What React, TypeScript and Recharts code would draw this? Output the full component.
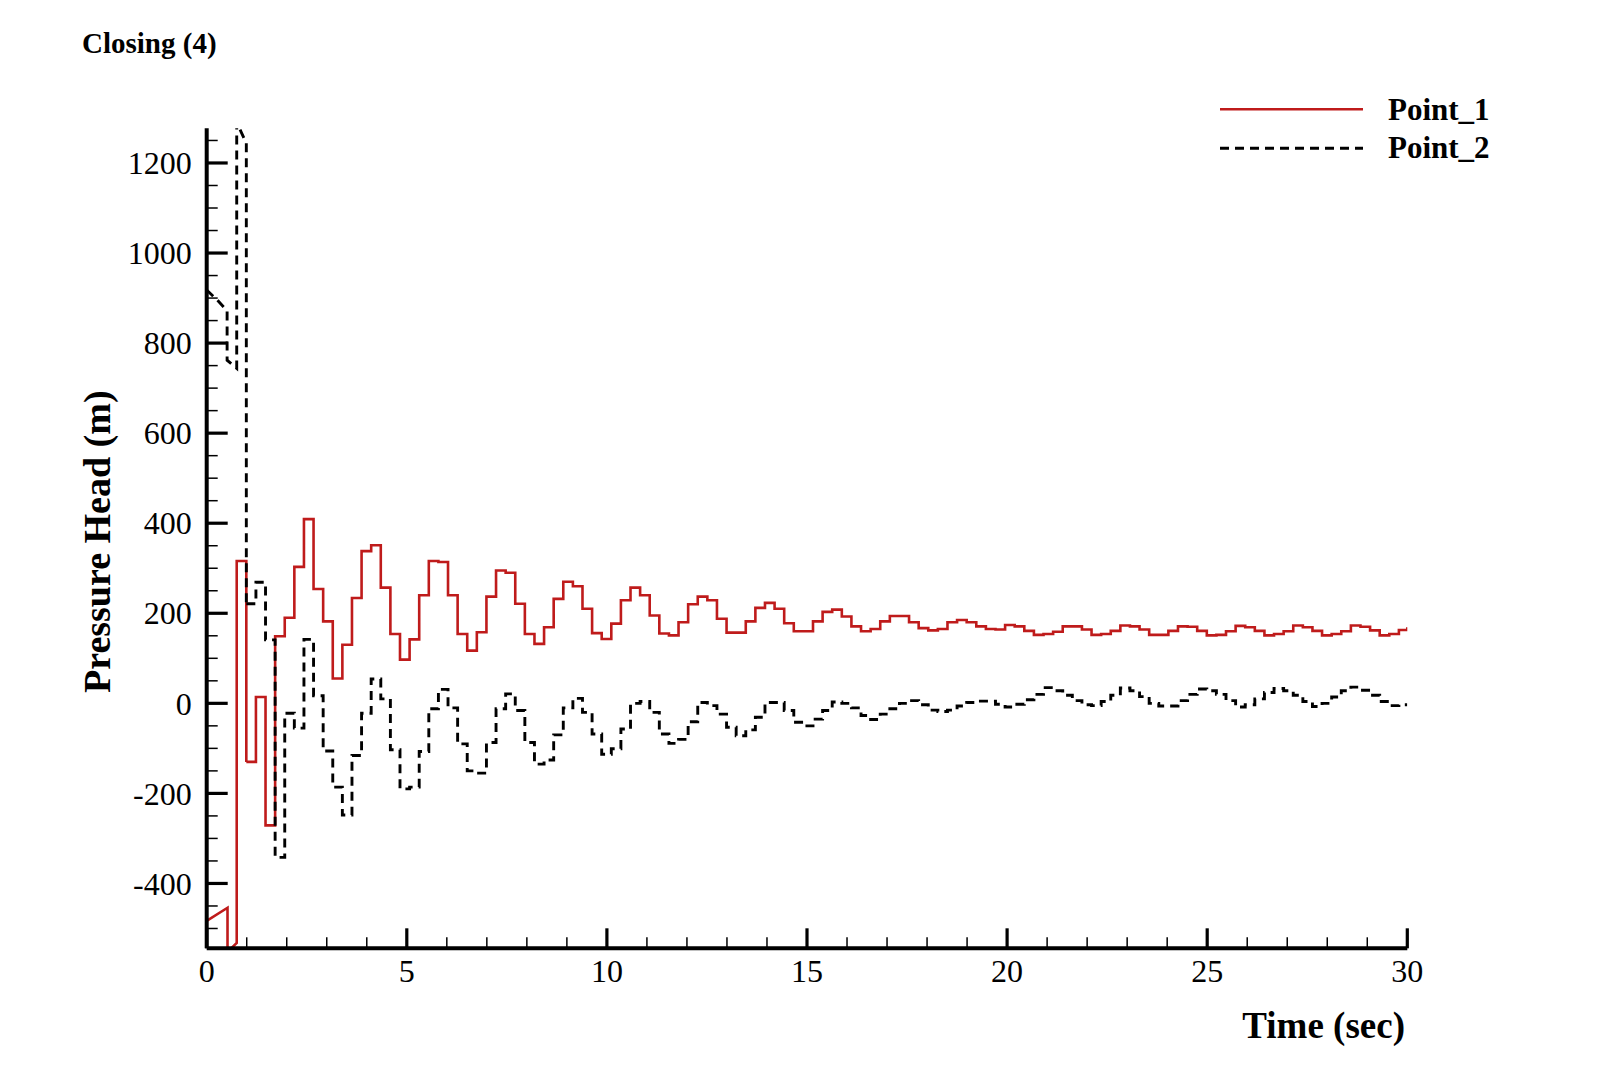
import React from 'react';
import { LineChart, Line, XAxis, YAxis } from 'recharts';

// step boundaries of the solver output (sec); last entry closes the final step
const stepTimes = [
  0.99, 1.23, 1.47, 1.71, 1.95, 2.19, 2.43, 2.67, 2.91, 3.15, 3.39, 3.63, 3.87, 4.11, 4.35, 4.59,
  4.83, 5.07, 5.31, 5.55, 5.79, 6.03, 6.27, 6.51, 6.75, 6.99, 7.23, 7.47, 7.71, 7.95, 8.19, 8.43,
  8.67, 8.91, 9.15, 9.39, 9.63, 9.87, 10.11, 10.35, 10.59, 10.83, 11.07, 11.31, 11.55, 11.79, 12.03, 12.27,
  12.51, 12.75, 12.99, 13.23, 13.47, 13.71, 13.95, 14.19, 14.43, 14.67, 14.91, 15.15, 15.39, 15.63, 15.87, 16.11,
  16.35, 16.59, 16.83, 17.07, 17.31, 17.55, 17.79, 18.03, 18.27, 18.51, 18.75, 18.99, 19.23, 19.47, 19.71, 19.95,
  20.19, 20.43, 20.67, 20.91, 21.15, 21.39, 21.63, 21.87, 22.11, 22.35, 22.59, 22.83, 23.07, 23.31, 23.55, 23.79,
  24.03, 24.27, 24.51, 24.75, 24.99, 25.23, 25.47, 25.71, 25.95, 26.19, 26.43, 26.67, 26.91, 27.15, 27.39, 27.63,
  27.87, 28.11, 28.35, 28.59, 28.83, 29.07, 29.31, 29.55, 29.79, 30.0,
];

const point1Steps = [
  -130, 14, -271, 149, 190, 303, 409, 254, 182, 55, 130, 234, 338, 351, 257, 154,
  97, 142, 240, 316, 314, 240, 154, 117, 158, 237, 295, 290, 221, 154, 132, 169,
  232, 270, 260, 210, 156, 143, 177, 229, 257, 240, 195, 155, 151, 180, 220, 237,
  229, 188, 157, 157, 182, 212, 223, 210, 178, 160, 160, 182, 203, 208, 193, 171,
  160, 165, 182, 194, 194, 180, 167, 162, 165, 180, 185, 180, 171, 165, 164, 174,
  171, 161, 152, 154, 159, 171, 171, 164, 152, 154, 161, 173, 171, 164, 152, 152,
  161, 171, 170, 161, 151, 152, 160, 172, 169, 161, 151, 154, 160, 173, 169, 161,
  151, 154, 160, 173, 170, 162, 151, 154, 163, 169,
];

const point2Steps = [
  221, 269, 141, -342, -22, -55, 142, 17, -106, -186, -248, -116, -22, 54, 10, -103,
  -190, -186, -107, -12, 31, -10, -90, -150, -155, -87, -12, 21, -16, -87, -135, -126,
  -70, -10, 11, -20, -68, -113, -101, -57, 0, 4, -20, -68, -89, -80, -41, 2,
  -5, -24, -53, -72, -59, -31, 2, 2, -16, -42, -50, -35, -16, 3, 0, -10,
  -27, -36, -24, -12, 0, 6, -3, -15, -18, -15, -6, 2, 5, 5, -2, -8,
  -2, 8, 20, 35, 28, 18, 6, -3, -5, 4, 18, 34, 28, 15, 0, -6,
  -6, 6, 20, 32, 28, 20, 6, -8, -3, 10, 24, 33, 28, 18, 4, -7,
  0, 14, 28, 36, 29, 18, 4, -5, -3, -3,
];

// valve closing transient before the first regular step
const onsetTimes1 = [0, 0.52, 0.52, 0.75, 0.75, 0.99, 0.99];
const onsetPoint1 = [-483, -454, -552, -532, 316, 316, -130];
const onsetTimes2 = [0, 0.27, 0.51, 0.51, 0.75, 0.75, 0.99, 0.99];
const onsetPoint2 = [918, 895, 872, 762, 744, 1290, 1244, 221];

const xTicks = [
  0, 1, 2, 3, 4, 5, 6, 7, 8, 9, 10, 11, 12, 13, 14, 15,
  16, 17, 18, 19, 20, 21, 22, 23, 24, 25, 26, 27, 28, 29, 30,
];
const yTicks = [
  -500, -450, -400, -350, -300, -250, -200, -150, -100, -50, 0, 50, 100, 150, 200, 250,
  300, 350, 400, 450, 500, 550, 600, 650, 700, 750, 800, 850, 900, 950, 1000, 1050,
  1100, 1150, 1200, 1250,
];

const RED = '#bf1b1b';
const FONT = '"Liberation Serif", "Times New Roman", serif';
const X_MARGIN = 11;
const Y_MARGIN = 15;
const RED_W = 2.6;
const BLACK_W = 2.9;
const DASH = '9 6';

const toRows = (times: number[], vals: number[]) => times.map((t, i) => ({ t, v: vals[i] }));

const p1Steps = toRows(stepTimes, point1Steps);
const p2Steps = toRows(stepTimes, point2Steps);
const p1Onset = toRows(onsetTimes1, onsetPoint1);
const p2Onset = toRows(onsetTimes2, onsetPoint2);

const XTick = (props: any) => {
  const { x, y, payload } = props;
  const major = payload.value % 5 === 0;
  const ay = y - X_MARGIN;
  return (
    <g>
      <line x1={x} x2={x} y1={ay} y2={ay - (major ? 20 : 11)} stroke="#000" strokeWidth={major ? 3.2 : 1.5} />
      {major && (
        <text x={x} y={y} dy="0.71em" textAnchor="middle" fontFamily={FONT} fontSize={32} fill="#000">
          {payload.value}
        </text>
      )}
    </g>
  );
};

const YTick = (props: any) => {
  const { x, y, payload } = props;
  const major = payload.value % 200 === 0;
  const ax = x + Y_MARGIN;
  return (
    <g>
      <line x1={ax} x2={ax + (major ? 21 : 11)} y1={y} y2={y} stroke="#000" strokeWidth={major ? 3.2 : 1.5} />
      {major && (
        <text x={x} y={y} dy="0.35em" textAnchor="end" fontFamily={FONT} fontSize={32} fill="#000">
          {payload.value}
        </text>
      )}
    </g>
  );
};

export default function App() {
  return (
    <div style={{ position: 'relative', width: 1584, height: 1050, background: '#fff' }}>
      <LineChart width={1584} height={1050} margin={{ top: 120.3, right: 184.7, bottom: 49.7, left: 78.7 }}>
        <XAxis
          type="number"
          dataKey="t"
          domain={[0, 30]}
          ticks={xTicks}
          interval={0}
          height={60}
          tickSize={0}
          tickMargin={X_MARGIN}
          tick={<XTick />}
          axisLine={{ stroke: '#000', strokeWidth: 4 }}
          allowDataOverflow
        />
        <YAxis
          type="number"
          dataKey="v"
          domain={[-544, 1277]}
          ticks={yTicks}
          interval={0}
          width={120}
          tickSize={0}
          tickMargin={Y_MARGIN}
          tick={<YTick />}
          axisLine={{ stroke: '#000', strokeWidth: 4 }}
          allowDataOverflow
        />
        <Line data={p1Onset} dataKey="v" type="linear" stroke={RED} strokeWidth={RED_W} dot={false} isAnimationActive={false} />
        <Line data={p1Steps} dataKey="v" type="stepAfter" stroke={RED} strokeWidth={RED_W} dot={false} isAnimationActive={false} />
        <Line data={p2Onset} dataKey="v" type="linear" stroke="#000" strokeWidth={BLACK_W} strokeDasharray={DASH} dot={false} isAnimationActive={false} />
        <Line data={p2Steps} dataKey="v" type="stepAfter" stroke="#000" strokeWidth={BLACK_W} strokeDasharray={DASH} dot={false} isAnimationActive={false} />
      </LineChart>
      <svg width={1584} height={1050} style={{ position: 'absolute', left: 0, top: 0, pointerEvents: 'none' }}>
        <text x={74} y={45.3} fontFamily={FONT} fontWeight="bold" fontSize={29}>Closing (4)</text>
        <text
          x={102}
          y={533.7}
          transform="rotate(-90 102 533.7)"
          textAnchor="middle"
          fontFamily={FONT}
          fontWeight="bold"
          fontSize={38}
        >
          Pressure Head (m)
        </text>
        <text x={1397} y={1030.3} textAnchor="end" fontFamily={FONT} fontWeight="bold" fontSize={37}>Time (sec)</text>
        <line x1={1212} x2={1355} y1={101.3} y2={101.3} stroke={RED} strokeWidth={RED_W} />
        <text x={1380} y={112} fontFamily={FONT} fontWeight="bold" fontSize={31}>Point_1</text>
        <line x1={1212} x2={1355} y1={140.3} y2={140.3} stroke="#000" strokeWidth={BLACK_W} strokeDasharray={DASH} />
        <text x={1380} y={150.3} fontFamily={FONT} fontWeight="bold" fontSize={31}>Point_2</text>
      </svg>
    </div>
  );
}
